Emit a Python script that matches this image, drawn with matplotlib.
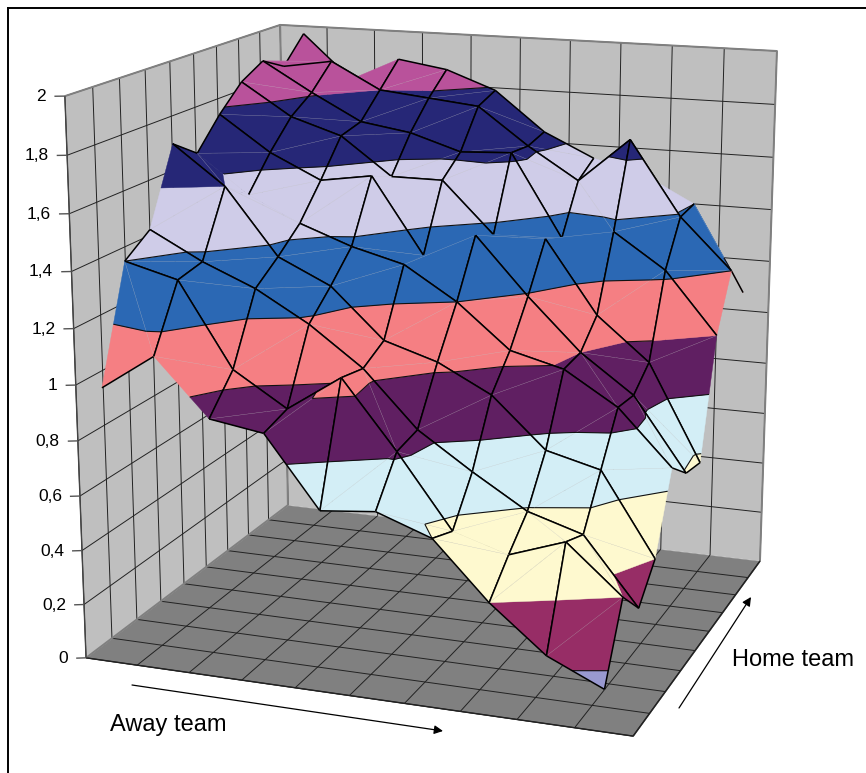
import numpy as np, matplotlib
matplotlib.use('Agg')
import matplotlib.pyplot as plt
from matplotlib.lines import Line2D
from mpl_toolkits.mplot3d.art3d import Poly3DCollection, Line3DCollection

W,H=866,773
z_tick_labels=['0','0,2','0,4','0,6','0,8','1','1,2','1,4','1,6','1,8','2']
away_0=[1.00,1.40,1.47,1.74,1.67,1.78,1.87,1.92,1.87,1.97]
away_1=[1.13,1.35,1.37,1.60,1.53,1.65,1.75,1.81,1.90,1.80]
away_2=[0.93,1.05,1.29,1.36,1.44,1.56,1.69,1.71,1.80,1.89]
away_3=[0.90,0.93,1.18,1.27,1.37,1.59,1.55,1.68,1.78,1.86]
away_4=[0.65,1.06,1.04,1.09,1.32,1.31,1.55,1.62,1.76,1.79]
away_5=[0.67,0.82,0.84,1.03,1.20,1.40,1.36,1.63,1.62,1.64]
away_6=[0.60,0.56,0.71,0.93,1.04,1.19,1.36,1.32,1.50,1.55]
away_7=[0.40,0.50,0.59,0.75,0.99,1.00,1.09,1.36,1.67,1.50]
away_8=[0.24,0.57,0.53,0.70,0.87,0.86,0.93,1.23,1.39,1.40]
away_9=[0.15,0.40,0.29,0.40,0.67,0.59,0.57,1.00,1.20,1.07]
Zv=np.array([away_0,away_1,away_2,away_3,away_4,away_5,away_6,away_7,away_8,away_9])

# mesh edges the original chart leaves undrawn: along-away (i,j)-(i+1,j) and along-home (i,j)-(i,j+1)
HIDE_AWAY={(0,4),(1,4),(4,5),(5,6),(6,7),(6,9),(7,9),(8,9),(1,9),(1,0),(6,1)}
HIDE_HOME={(1,3),(3,5),(4,4),(5,5),(6,6),(7,8),(1,8),(9,3),(9,6),(9,7),(0,0),(0,2)}

# camera: projective map fitted to where the box corners sit in the figure
corners=[((0,0,0),(86,658)),((10,0,0),(633,736)),((10,9,0),(760,561)),((0,9,0),(288,505)),
         ((0,0,2),(65,96)),((0,9,2),(280,25)),((10,9,2),(777,51))]
A=[]
for (X,Y,Z_),(x,y) in corners:
    y=H-y
    A.append([X,Y,Z_,1,0,0,0,0,-x*X,-x*Y,-x*Z_,-x])
    A.append([0,0,0,0,X,Y,Z_,1,-y*X,-y*Y,-y*Z_,-y])
P=np.linalg.svd(np.array(A,float))[2][-1].reshape(3,4)
C=np.linalg.svd(P)[2][-1]
M=np.vstack([P[0],P[1],C,P[2]])

U=np.arange(10)+0.5; V=np.arange(10.)
LEVELS=np.arange(0,2.01,0.2)
BAND=['#9999D0','#972D66','#FEF9CF','#D3EEF6','#601F62','#F57F83','#2B68B4','#CFCCE8','#262777','#B9529B']

fig=plt.figure(figsize=(W/100,H/100),dpi=100)
ax=fig.add_axes([0,0,1,1],projection='3d',computed_zorder=False)
ax.set_xlim(0,10);ax.set_ylim(0,9);ax.set_zlim(0,2)
ax.set_xticks([]);ax.set_yticks([]);ax.set_zticks([])
def gp():
    ax.viewLim.intervalx=(0,W); ax.viewLim.intervaly=(0,H)
    return M
ax.get_proj=gp
ax.apply_aspect=lambda position=None: None
ax.set_axis_off()
ax.set_autoscale_on(False)

def poly(v,fc,z):
    ax.add_collection3d(Poly3DCollection(v,facecolors=fc,edgecolors=fc,linewidths=0.3,zorder=z),autolim=False)
def lines(s,c,lw,z,alpha=None):
    ax.add_collection3d(Line3DCollection(s,colors=c,linewidths=lw,zorder=z,alpha=alpha),autolim=False)
poly([[(0,0,0),(0,9,0),(0,9,2),(0,0,2)],[(0,9,0),(10,9,0),(10,9,2),(0,9,2)]],'#BFBFBF',1)
poly([[(0,0,0),(10,0,0),(10,9,0),(0,9,0)]],'#808080',1)
zt=np.arange(0,2.01,.2)
s=[[(0,v,0),(0,v,2)] for v in range(0,10)]+[[(u,9,0),(u,9,2)] for u in range(0,11)]
s+=[[(0,0,z),(0,9,z),(10,9,z)] for z in zt[1:]]
s+=[[(u,0,0),(u,9,0)] for u in range(1,11)]+[[(0,v,0),(10,v,0)] for v in range(0,9)]
lines(s,'#222222',0.7,2)
lines([[(0,0,2),(0,9,2),(10,9,2),(10,9,0)],[(0,9,0),(0,9,2)],[(0,0,0),(0,9,0)]],'#808080',1.4,3)
lines([[(0,0,0),(10,0,0),(10,9,0)]],'#222222',1.0,3)
lines([[(0,0,0),(0,0,2)]],'#444444',1.0,3)
for z,lab in zip(zt,z_tick_labels):
    lines([[(0,0,z),(-0.156,-0.073,z)]],'#555555',1.0,3)
    ax.text(-0.28,-0.13,z,lab,ha='right',va='center',fontsize=12.5,family='Liberation Sans',color='black')

def clip(poly_,lev,keep_above):
    out=[]
    n=len(poly_)
    for k in range(n):
        a=poly_[k];b=poly_[(k+1)%n]
        ina=(a[2]>=lev) if keep_above else (a[2]<=lev)
        inb=(b[2]>=lev) if keep_above else (b[2]<=lev)
        if ina: out.append(a)
        if ina!=inb:
            t=(lev-a[2])/(b[2]-a[2])
            out.append(tuple(a[m]+t*(b[m]-a[m]) for m in range(3)))
    return out
def level_seg(tri,lev):
    pts=[]
    for k in range(3):
        a=tri[k];b=tri[(k+1)%3]
        if (a[2]-lev)*(b[2]-lev)<0:
            t=(lev-a[2])/(b[2]-a[2])
            pts.append(tuple(a[m]+t*(b[m]-a[m]) for m in range(3)))
    return pts if len(pts)==2 else None

cells=[]
for i in range(9):
    for j in range(9):
        c=np.array([U[i]+.5,V[j]+.5,Zv[i:i+2,j:j+2].mean(),1.])
        cells.append((abs(P[2]@c),i,j))
cells.sort(reverse=True)
zb=10
for _,i,j in cells:
    a=(U[i],V[j],Zv[i,j]);b=(U[i+1],V[j],Zv[i+1,j]);c=(U[i+1],V[j+1],Zv[i+1,j+1]);d=(U[i],V[j+1],Zv[i,j+1])
    if abs(a[2]-c[2])<abs(b[2]-d[2]):
        tris=[(a,b,c),(a,c,d)];diag=[a,c]
    else:
        tris=[(a,b,d),(b,c,d)];diag=[b,d]
    vs=[];fc=[];seg=[]
    for tri in tris:
        for k,col in enumerate(BAND):
            p=clip(clip(list(tri),LEVELS[k],True),LEVELS[k+1],False)
            if len(p)>=3:
                vs.append(p);fc.append(col)
        for lev in LEVELS:
            q=level_seg(tri,lev)
            if q: seg.append(q)
    ax.add_collection3d(Poly3DCollection(vs,facecolors=fc,edgecolors=fc,linewidths=0.3,zorder=zb),autolim=False)
    lines([diag],'#c8c8c8',0.25,zb+.1,alpha=.6)
    if seg: lines(seg,'#111111',0.8,zb+.2)
    edges=[]
    if (i,j) not in HIDE_AWAY: edges.append([a,b])
    if (i,j+1) not in HIDE_AWAY: edges.append([d,c])
    if (i,j) not in HIDE_HOME: edges.append([a,d])
    if (i+1,j) not in HIDE_HOME: edges.append([b,c])
    if edges: lines(edges,'black',1.1,zb+.3)
    zb+=1

def fx(x): return x/W
def fy(y): return 1-y/H
fig.add_artist(Line2D([fx(8),fx(8)],[fy(773),fy(8)],color='black',lw=1.4))
fig.add_artist(Line2D([fx(8),fx(866)],[fy(8),fy(8)],color='black',lw=1.4))
for (x0,y0),(x1,y1) in [((132,685),(443,731)),((679,708),(751,597))]:
    ax.annotate('',xy=(fx(x1),fy(y1)),xytext=(fx(x0),fy(y0)),xycoords='figure fraction',textcoords='figure fraction',
                arrowprops=dict(arrowstyle='-|>',color='black',lw=0.9,shrinkA=0,shrinkB=0,mutation_scale=13),zorder=500)
fig.text(fx(110),fy(731),'Away team',fontsize=17,family='Liberation Sans',va='baseline',ha='left')
fig.text(fx(732),fy(666),'Home team',fontsize=17,family='Liberation Sans',va='baseline',ha='left')
fig.savefig('out.png',dpi=100)
